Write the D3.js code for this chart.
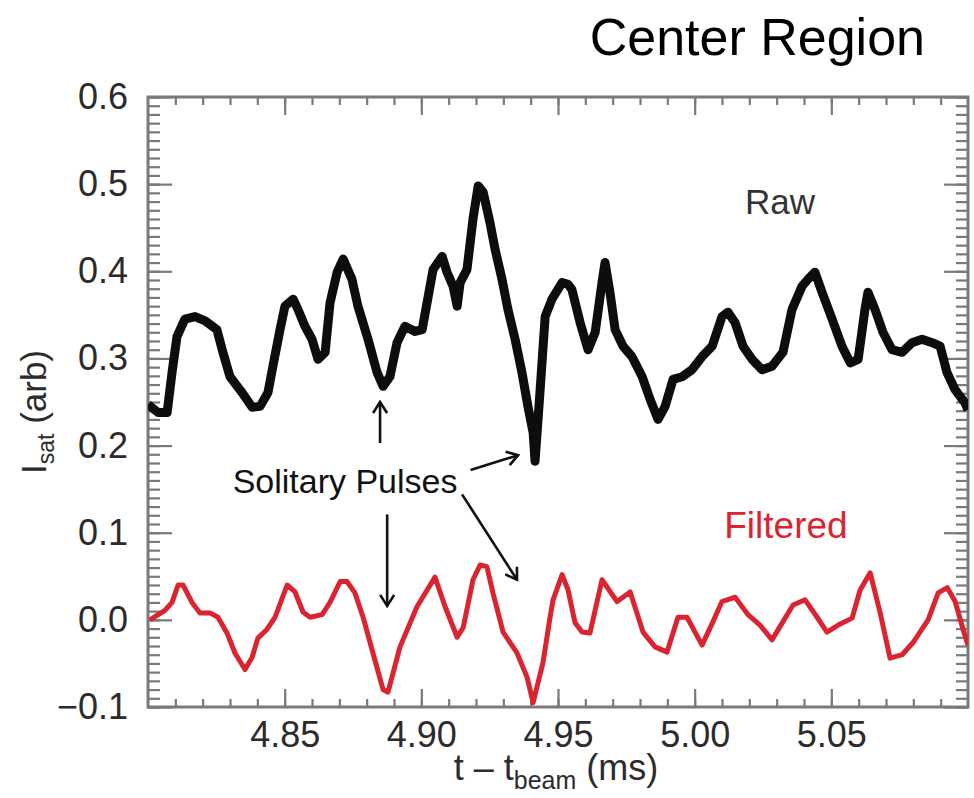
<!DOCTYPE html>
<html>
<head>
<meta charset="utf-8">
<script src="https://cdn.jsdelivr.net/npm/d3@7"></script>
<style>
  html, body { margin: 0; padding: 0; background: #fff; }
  svg { display: block; }
  text { font-family: "Liberation Sans", Arial, Helvetica, sans-serif; }
</style>
</head>
<body>
<svg id="chart" width="974" height="798"></svg>
<script>
// ---- data (time in ms, Isat in arb units) ----
const rawT = [4.8000,4.8037,4.8070,4.8088,4.8106,4.8135,4.8172,4.8209,4.8252,4.8274,4.8300,4.8344,4.8381,4.8410,4.8439,4.8457,4.8483,4.8501,4.8531,4.8549,4.8574,4.8600,4.8622,4.8648,4.8666,4.8692,4.8714,4.8746,4.8768,4.8805,4.8838,4.8860,4.8885,4.8911,4.8940,4.8977,4.9003,4.9021,4.9043,4.9076,4.9094,4.9116,4.9131,4.9142,4.9167,4.9189,4.9208,4.9226,4.9251,4.9270,4.9295,4.9317,4.9343,4.9368,4.9390,4.9409,4.9416,4.9434,4.9453,4.9478,4.9515,4.9537,4.9551,4.9581,4.9610,4.9636,4.9661,4.9672,4.9690,4.9709,4.9738,4.9771,4.9808,4.9837,4.9866,4.9892,4.9921,4.9954,4.9990,5.0027,5.0064,5.0100,5.0122,5.0148,5.0177,5.0210,5.0247,5.0283,5.0323,5.0356,5.0393,5.0415,5.0440,5.0466,5.0503,5.0539,5.0569,5.0598,5.0623,5.0634,5.0660,5.0689,5.0722,5.0759,5.0795,5.0832,5.0869,5.0898,5.0923,5.0953,5.0989,5.1000];
const rawV = [0.247,0.238,0.238,0.284,0.325,0.345,0.348,0.343,0.333,0.307,0.279,0.261,0.244,0.245,0.261,0.291,0.333,0.360,0.368,0.356,0.337,0.322,0.299,0.307,0.364,0.399,0.414,0.391,0.360,0.322,0.284,0.268,0.279,0.318,0.337,0.331,0.333,0.364,0.402,0.417,0.399,0.383,0.360,0.387,0.402,0.460,0.498,0.491,0.456,0.425,0.391,0.356,0.322,0.284,0.245,0.215,0.182,0.261,0.348,0.368,0.387,0.385,0.379,0.341,0.310,0.330,0.387,0.410,0.376,0.333,0.314,0.302,0.279,0.253,0.230,0.245,0.276,0.279,0.287,0.302,0.314,0.348,0.353,0.341,0.314,0.299,0.287,0.291,0.307,0.356,0.383,0.391,0.399,0.376,0.345,0.314,0.295,0.299,0.356,0.376,0.356,0.330,0.310,0.307,0.318,0.322,0.318,0.314,0.284,0.264,0.249,0.241];

const filtT = [4.8007,4.8062,4.8088,4.8110,4.8128,4.8161,4.8190,4.8227,4.8256,4.8289,4.8318,4.8355,4.8381,4.8402,4.8435,4.8465,4.8509,4.8538,4.8567,4.8593,4.8637,4.8666,4.8703,4.8728,4.8757,4.8787,4.8823,4.8860,4.8878,4.8922,4.8984,4.9050,4.9087,4.9131,4.9153,4.9189,4.9215,4.9240,4.9262,4.9299,4.9350,4.9387,4.9409,4.9445,4.9471,4.9482,4.9515,4.9537,4.9562,4.9588,4.9617,4.9661,4.9716,4.9764,4.9811,4.9855,4.9899,4.9939,4.9972,5.0027,5.0067,5.0100,5.0148,5.0195,5.0239,5.0283,5.0323,5.0360,5.0404,5.0448,5.0484,5.0525,5.0576,5.0605,5.0642,5.0678,5.0715,5.0759,5.0799,5.0854,5.0891,5.0924,5.0953,5.0982,5.1000];
const filtV = [0.000,0.011,0.020,0.040,0.040,0.020,0.008,0.008,0.003,-0.015,-0.038,-0.057,-0.043,-0.021,-0.011,0.003,0.040,0.032,0.009,0.003,0.006,0.020,0.044,0.044,0.031,0.003,-0.038,-0.080,-0.083,-0.031,0.015,0.049,0.015,-0.020,-0.009,0.046,0.063,0.061,0.031,-0.014,-0.038,-0.066,-0.095,-0.049,0.003,0.023,0.052,0.034,-0.003,-0.014,-0.015,0.046,0.021,0.032,-0.014,-0.031,-0.037,0.003,0.003,-0.029,-0.002,0.021,0.026,0.006,-0.006,-0.023,-0.002,0.017,0.023,0.003,-0.014,-0.006,0.002,0.034,0.054,0.009,-0.044,-0.040,-0.026,0.000,0.031,0.037,0.021,-0.011,-0.029];

const xMajorTicks = [4.85, 4.90, 4.95, 5.00, 5.05];
const xTickLabels = ["4.85", "4.90", "4.95", "5.00", "5.05"];
const yMajorTicks = [-0.1, 0.0, 0.1, 0.2, 0.3, 0.4, 0.5, 0.6];
const yTickLabels = ["\u22120.1", "0.0", "0.1", "0.2", "0.3", "0.4", "0.5", "0.6"];

// annotation arrows in data coordinates: [t0, v0, t1, v1]
const arrowsData = [
  [4.8849, 0.203, 4.8849, 0.250],
  [4.9180, 0.172, 4.9354, 0.189],
  [4.8875, 0.121, 4.8875, 0.016],
  [4.9149, 0.144, 4.9350, 0.046]
];

// ---- layout ----
const svg = d3.select("#chart");
const L = 148, R = 968, T = 97, B = 707;
const x = d3.scaleLinear().domain([4.80, 5.10]).range([L, R]);
const y = d3.scaleLinear().domain([-0.1, 0.6]).range([B, T]);

const axisColor = "#7a7a7a";
const labelColor = "#2b2b2b";

const xMinor = d3.range(481, 510).map(d => d / 100);
const yMinor = d3.range(-10, 61).map(d => d / 100);

function styleAxis(g) {
  g.select(".domain").remove();
  g.selectAll(".tick line").attr("stroke", axisColor).attr("stroke-width", 2.2);
  g.selectAll(".tick text").attr("fill", labelColor).attr("font-size", 36)
    .attr("font-family", '"Liberation Sans", Arial, sans-serif');
}

// minor ticks
svg.append("g").attr("transform", `translate(0,${B})`)
  .call(d3.axisBottom(x).tickValues(xMinor).tickSize(-8).tickFormat("")).call(styleAxis);
svg.append("g").attr("transform", `translate(0,${T})`)
  .call(d3.axisTop(x).tickValues(xMinor).tickSize(-8).tickFormat("")).call(styleAxis);
svg.append("g").attr("transform", `translate(${L},0)`)
  .call(d3.axisLeft(y).tickValues(yMinor).tickSize(-12).tickFormat("")).call(styleAxis);
svg.append("g").attr("transform", `translate(${R},0)`)
  .call(d3.axisRight(y).tickValues(yMinor).tickSize(-12).tickFormat("")).call(styleAxis);

// major ticks
svg.append("g").attr("transform", `translate(0,${B})`)
  .call(d3.axisBottom(x).tickValues(xMajorTicks).tickSize(-18).tickPadding(14)
    .tickFormat((d, i) => xTickLabels[i])).call(styleAxis);
svg.append("g").attr("transform", `translate(0,${T})`)
  .call(d3.axisTop(x).tickValues(xMajorTicks).tickSize(-18).tickFormat("")).call(styleAxis);
svg.append("g").attr("transform", `translate(${L},0)`)
  .call(d3.axisLeft(y).tickValues(yMajorTicks).tickSize(-24).tickPadding(20)
    .tickFormat((d, i) => yTickLabels[i])).call(styleAxis);
svg.append("g").attr("transform", `translate(${R},0)`)
  .call(d3.axisRight(y).tickValues(yMajorTicks).tickSize(-24).tickFormat("")).call(styleAxis);

// frame
svg.append("rect").attr("x", L).attr("y", T).attr("width", R - L).attr("height", B - T)
  .attr("fill", "none").attr("stroke", axisColor).attr("stroke-width", 3);

// clip
svg.append("clipPath").attr("id", "clip").append("rect")
  .attr("x", L).attr("y", T - 10).attr("width", R - L).attr("height", B - T + 20);

const line = d3.line().x(d => x(d[0])).y(d => y(d[1]));

svg.append("path")
  .datum(rawT.map((t, i) => [t, rawV[i]]))
  .attr("clip-path", "url(#clip)")
  .attr("d", line).attr("fill", "none")
  .attr("stroke", "#0d0d0d").attr("stroke-width", 9)
  .attr("stroke-linejoin", "round").attr("stroke-linecap", "butt");

svg.append("path")
  .datum(filtT.map((t, i) => [t, filtV[i]]))
  .attr("clip-path", "url(#clip)")
  .attr("d", line).attr("fill", "none")
  .attr("stroke", "#dc2430").attr("stroke-width", 5)
  .attr("stroke-linejoin", "round").attr("stroke-linecap", "butt");

// arrows
svg.append("defs").append("marker")
  .attr("id", "head").attr("viewBox", "-12 -8 14 16")
  .attr("refX", 0).attr("refY", 0)
  .attr("markerWidth", 14).attr("markerHeight", 16)
  .attr("markerUnits", "userSpaceOnUse")
  .attr("orient", "auto")
  .append("path").attr("d", "M-11,-7 L0,0 L-11,7")
  .attr("fill", "none").attr("stroke", "#111").attr("stroke-width", 2.6);

svg.selectAll(".arrow").data(arrowsData).enter().append("line")
  .attr("x1", d => x(d[0])).attr("y1", d => y(d[1]))
  .attr("x2", d => x(d[2])).attr("y2", d => y(d[3]))
  .attr("stroke", "#111").attr("stroke-width", 2.6)
  .attr("marker-end", "url(#head)");

// texts
svg.append("text").attr("x", 925).attr("y", 55).attr("text-anchor", "end")
  .attr("font-size", 52).attr("fill", "#000").text("Center Region");

svg.append("text").attr("x", x(5.0312)).attr("y", y(0.466)).attr("text-anchor", "middle")
  .attr("font-size", 35).attr("fill", "#333").text("Raw");

svg.append("text").attr("x", x(5.0334)).attr("y", y(0.094)).attr("text-anchor", "middle")
  .attr("font-size", 37).attr("fill", "#dc2430").text("Filtered");

svg.append("text").attr("x", x(4.8721)).attr("y", y(0.146)).attr("text-anchor", "middle")
  .attr("font-size", 34).attr("fill", "#111").text("Solitary Pulses");

// y axis title
const yt = svg.append("text").attr("transform", "translate(46,412) rotate(-90)")
  .attr("text-anchor", "middle").attr("font-size", 35).attr("fill", labelColor);
yt.append("tspan").text("I");
yt.append("tspan").attr("font-size", 23).attr("dy", 8).text("sat");
yt.append("tspan").attr("dy", -8).text(" (arb)");

// x axis title
const xt = svg.append("text").attr("x", 556).attr("y", 780)
  .attr("text-anchor", "middle").attr("font-size", 36).attr("fill", labelColor);
xt.append("tspan").text("t \u2013 t");
xt.append("tspan").attr("font-size", 25).attr("dy", 9).text("beam");
xt.append("tspan").attr("dy", -9).text(" (ms)");
</script>
</body>
</html>
